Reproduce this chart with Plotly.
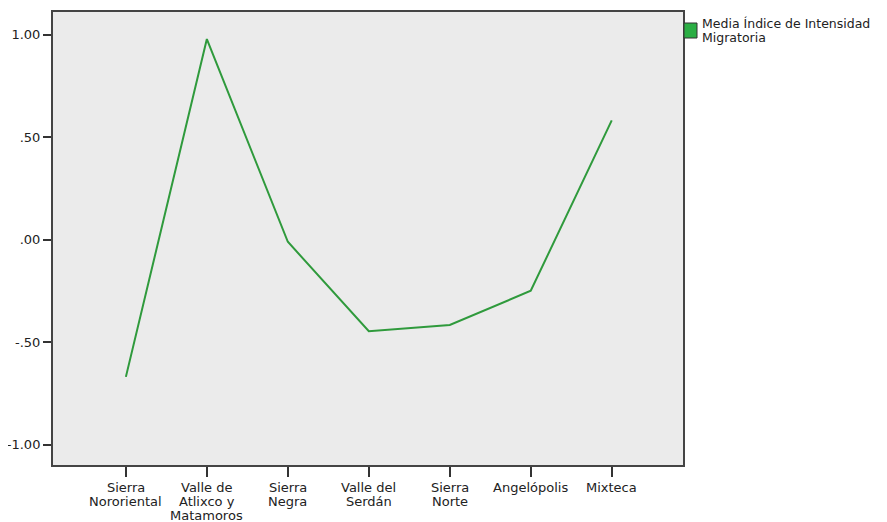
import plotly.graph_objects as go

categories = ["Sierra<br>Nororiental", "Valle de<br>Atlixco y<br>Matamoros", "Sierra<br>Negra",
              "Valle del<br>Serdán", "Sierra<br>Norte", "Angelópolis", "Mixteca"]
values = [-0.670, 0.978, -0.011, -0.447, -0.417, -0.250, 0.581]
y_tickvals = [1.0, 0.5, 0.0, -0.5, -1.0]
y_ticktext = ["1.00", ".50", ".00", "-.50", "-1.00"]
legend_lines = ["Media Índice de Intensidad", "Migratoria"]

# page is offset by the default 8px body margin
OFF = 8
W, H = 887 - OFF, 522 - OFF
L, R, T, B = 53 - OFF, 683 - OFF, 12 - OFF, 465 - OFF
FAM = "DejaVu Sans, Arial, sans-serif"
TXT = "#222222"

fig = go.Figure()
fig.add_trace(go.Scatter(
    x=list(range(len(categories))), y=values, mode="lines",
    line=dict(color="#2f9a3c", width=2), showlegend=False, hoverinfo="skip"))

fig.update_layout(
    width=W, height=H,
    margin=dict(l=L, r=W - R, t=T, b=H - B, pad=0, autoexpand=False),
    paper_bgcolor="white", plot_bgcolor="#ebebeb",
    font=dict(family=FAM, size=13, color=TXT),
    xaxis=dict(range=[-0.9, 6.88], tickmode="array", automargin=False,
               tickvals=list(range(len(categories))), ticktext=[""] * len(categories),
               showgrid=False, zeroline=False, showline=True, mirror=True,
               linecolor="#444444", linewidth=2, ticks="outside", ticklen=10,
               tickcolor="#333333", tickwidth=1.5),
    yaxis=dict(range=[-1.10, 1.11], tickmode="array", tickvals=y_tickvals, automargin=False,
               ticktext=y_ticktext, showgrid=False, zeroline=False, showline=True,
               mirror=True, linecolor="#444444", linewidth=2, ticks="outside",
               ticklen=8, tickcolor="#333333", tickwidth=1.5, tickfont=dict(size=13)),
)

# category labels, one annotation per line for tight SPSS-like line spacing
for i, lab in enumerate(categories):
    for k, part in enumerate(lab.split("<br>")):
        fig.add_annotation(xref="x", yref="paper", x=i, y=0, xanchor="center",
                           yanchor="middle", yshift=-22 - 14 * k, showarrow=False,
                           text=part, font=dict(family=FAM, size=13, color=TXT))

pw, ph = R - L, B - T
def px_x(px):
    return (px - OFF - L) / pw
def px_y(py):
    return (B - (py - OFF)) / ph

fig.add_shape(type="rect", xref="paper", yref="paper",
              x0=px_x(684), x1=px_x(697), y0=px_y(38), y1=px_y(23),
              fillcolor="#2bae44", line=dict(color="#333333", width=1))
for k, part in enumerate(legend_lines):
    fig.add_annotation(xref="paper", yref="paper", x=px_x(700), y=px_y(23 + 15 * k),
                       xanchor="left", yanchor="middle", align="left", showarrow=False,
                       text=part, font=dict(family=FAM, size=12.5, color=TXT))

fig.write_html("out.html")
